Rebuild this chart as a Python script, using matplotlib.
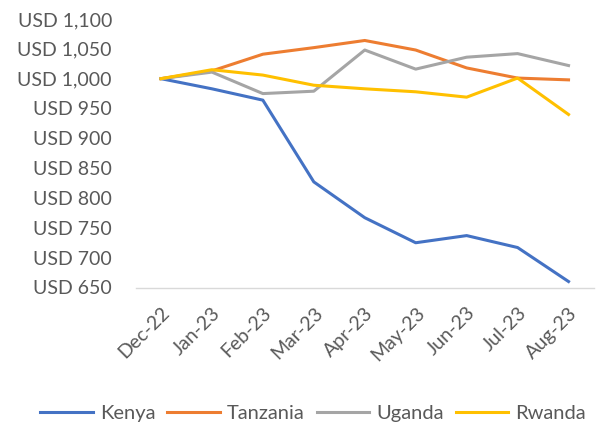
import matplotlib
matplotlib.use("Agg")
import matplotlib.pyplot as plt
from matplotlib.ticker import FuncFormatter

months = ["Dec-22", "Jan-23", "Feb-23", "Mar-23", "Apr-23", "May-23", "Jun-23", "Jul-23", "Aug-23"]
kenya = [1000, 983, 964, 827, 767, 725, 737, 717, 660]
tanzania = [1000, 1013, 1041, 1052, 1064, 1048, 1018, 1001, 998]
uganda = [1000, 1011, 975, 979, 1048, 1016, 1036, 1042, 1022]
rwanda = [1000, 1015, 1006, 989, 983, 978, 969, 1001, 940]
y_ticks = [650, 700, 750, 800, 850, 900, 950, 1000, 1050, 1100]

plt.rcParams['font.family'] = ['Lato', 'DejaVu Sans']
fig = plt.figure(figsize=(6, 4.28), dpi=100)
ax = fig.add_axes([135.5/600, 1-287.5/428, (594-135.5)/600, (287.5-19)/428])

x = list(range(len(months)))
series = [("Kenya", kenya, "#4472C4"), ("Tanzania", tanzania, "#ED7D31"),
          ("Uganda", uganda, "#A5A5A5"), ("Rwanda", rwanda, "#FFC000")]
for name, vals, col in series:
    ax.plot(x, vals, color=col, lw=2.2, label=name, solid_joinstyle='round')

ax.set_xlim(-0.5, len(months) - 0.5)
ax.set_ylim(650, 1100)
ax.set_yticks(y_ticks)
ax.yaxis.set_major_formatter(FuncFormatter(lambda v, p: f"USD {int(v):,}"))
ax.set_xticks(x)
ax.set_xticklabels(months, rotation=45, ha='right', va='top', rotation_mode='anchor')
for s in ['top', 'right', 'left']:
    ax.spines[s].set_visible(False)
ax.spines['bottom'].set_color('#D9D9D9')
ax.spines['bottom'].set_linewidth(1)
ax.tick_params(axis='both', length=0, colors='#595959', labelsize=14)
ax.tick_params(axis='y', pad=17)
ax.tick_params(axis='x', pad=12)

fig.legend(loc='center', bbox_to_anchor=(313/600, 1-413/428), ncol=4, frameon=False,
           fontsize=14.5, handlelength=2.6, columnspacing=0.6, handletextpad=0.35,
           labelcolor='#595959')

fig.savefig("out.png", dpi=100)
